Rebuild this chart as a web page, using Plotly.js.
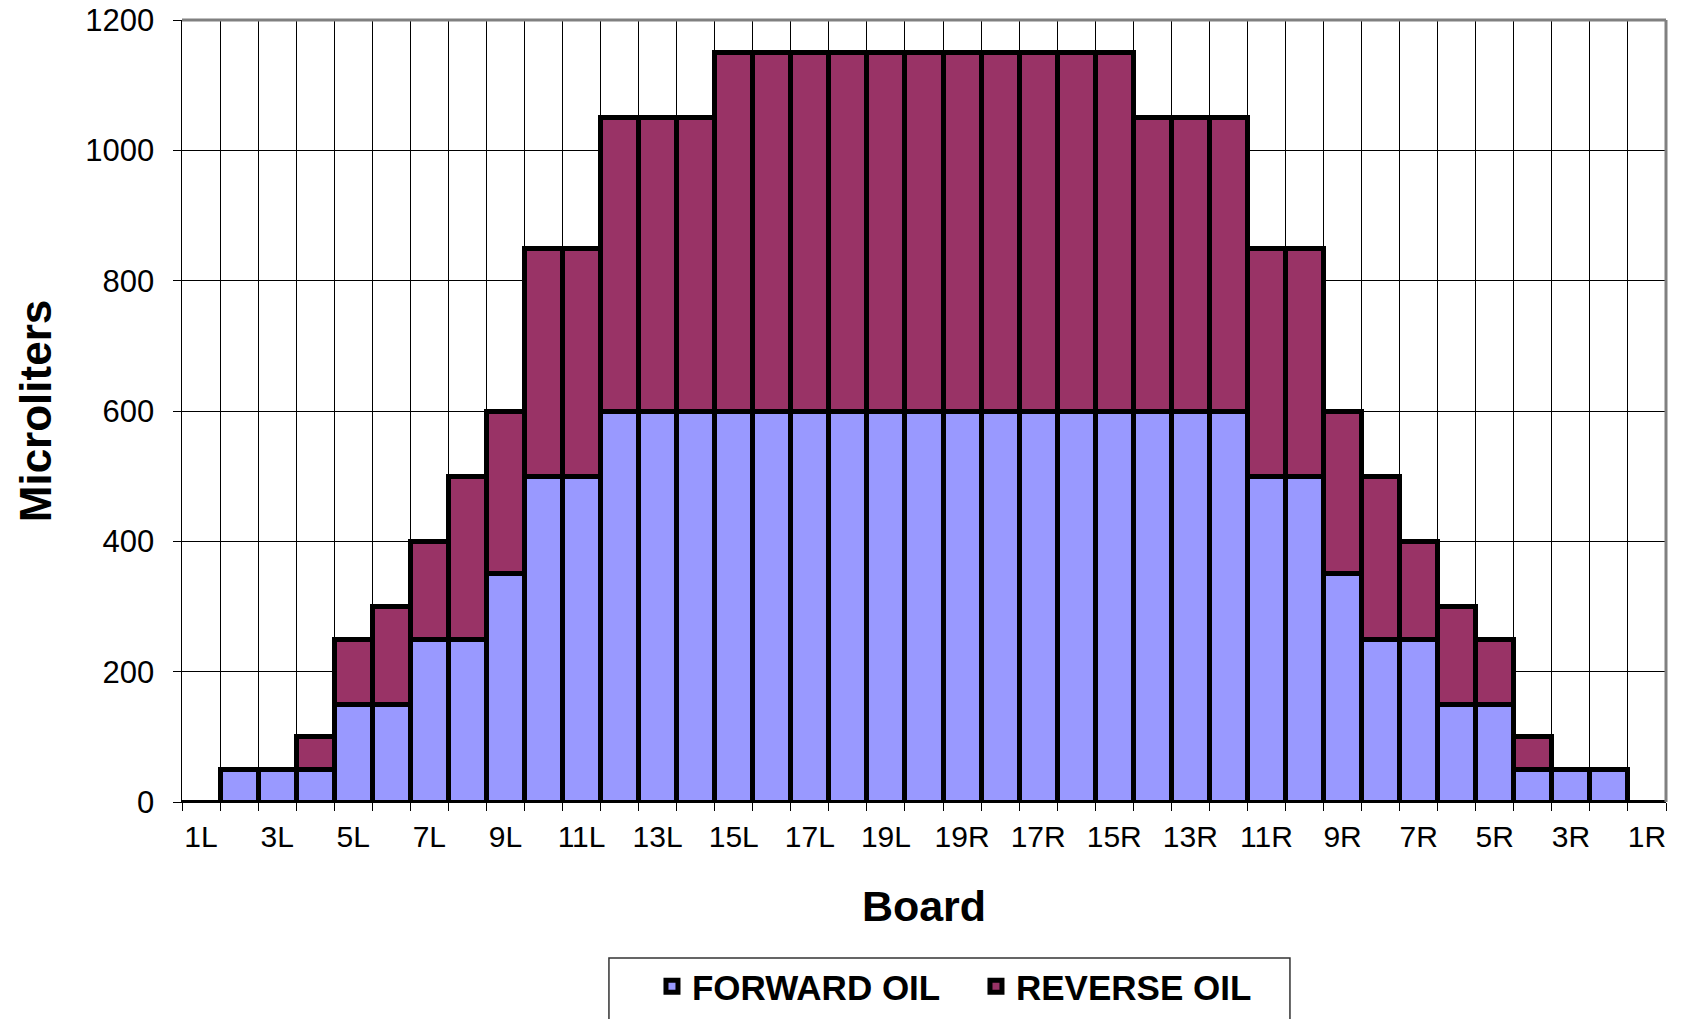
<!DOCTYPE html>
<html>
<head>
<meta charset="utf-8">
<script src="https://cdn.plot.ly/plotly-3.0.1.min.js"></script>
<style>
  html, body { margin: 0; padding: 0; background: #ffffff; }
  #chart { width: 1682px; height: 1019px; }
</style>
</head>
<body>
<div id="chart"></div>
<script>
// Board positions, left side 1L..19L, centre, right side 19R..1R
const categories = ["1L","2L","3L","4L","5L","6L","7L","8L","9L","10L","11L","12L","13L","14L","15L","16L","17L","18L","19L","20",
                    "19R","18R","17R","16R","15R","14R","13R","12R","11R","10R","9R","8R","7R","6R","5R","4R","3R","2R","1R"];
const tickLabels = ["1L","","3L","","5L","","7L","","9L","","11L","","13L","","15L","","17L","","19L","",
                    "19R","","17R","","15R","","13R","","11R","","9R","","7R","","5R","","3R","","1R"];
const forwardOil = [0,50,50,50,150,150,250,250,350,500,500,600,600,600,600,600,600,600,600,600,
                    600,600,600,600,600,600,600,600,500,500,350,250,250,150,150,50,50,50,0];
const reverseOil = [0,0,0,50,100,150,150,250,250,350,350,450,450,450,550,550,550,550,550,550,
                    550,550,550,550,550,450,450,450,350,350,250,250,150,150,100,50,0,0,0];
const yTicks = [0,200,400,600,800,1000,1200];

const FONT = "Liberation Sans, Arial, sans-serif";

const traces = [
  {
    type: "bar", name: "FORWARD OIL", x: categories, y: forwardOil,
    marker: { color: "#9999FF", line: { color: "#000000", width: 5 } }
  },
  {
    type: "bar", name: "REVERSE OIL", x: categories, y: reverseOil,
    marker: { color: "#993366", line: { color: "#000000", width: 5 } }
  }
];

const layout = {
  width: 1682, height: 1019,
  paper_bgcolor: "#ffffff", plot_bgcolor: "#ffffff",
  margin: { l: 182, r: 16, t: 20, b: 217, autoexpand: false },
  barmode: "stack", bargap: 0,
  font: { family: FONT, color: "#000000" },
  showlegend: true,
  legend: {
    orientation: "h", xref: "paper", x: 0.3167, xanchor: "left",
    yref: "container", y: 0.0608, yanchor: "top",
    font: { family: FONT, size: 35, color: "#000000", weight: "bold" },
    bgcolor: "rgba(0,0,0,0)", borderwidth: 0,
    entrywidth: 279, entrywidthmode: "pixels", traceorder: "normal"
  },
  xaxis: {
    type: "category", automargin: false,
    tickmode: "array", tickvals: categories, ticktext: tickLabels,
    tickson: "boundaries", tickangle: 0,
    ticks: "outside", ticklen: 8, tickcolor: "#000000", tickwidth: 1,
    tickfont: { family: FONT, size: 30, color: "#000000" },
    ticklabelstandoff: 8,
    showgrid: true, gridcolor: "#000000", gridwidth: 1,
    showline: true, linecolor: "#000000", linewidth: 1,
    zeroline: false, fixedrange: true,
    title: { text: "Board", font: { family: FONT, size: 43, color: "#000000", weight: "bold" }, standoff: 38 }
  },
  yaxis: {
    automargin: false,
    range: [0, 1200], tickmode: "array", tickvals: yTicks,
    ticks: "outside", ticklen: 8, tickcolor: "#000000", tickwidth: 1,
    tickfont: { family: FONT, size: 31, color: "#000000" },
    ticklabelstandoff: 12,
    showgrid: true, gridcolor: "#000000", gridwidth: 1,
    showline: true, linecolor: "#000000", linewidth: 1.5,
    zeroline: false, fixedrange: true,
    title: { text: "Microliters", font: { family: FONT, size: 44, color: "#000000", weight: "bold" }, standoff: 20 }
  },
  shapes: [
    { type: "line", xref: "paper", yref: "paper", x0: 0, x1: 1, y0: 1, y1: 1, line: { color: "#808080", width: 3 }, layer: "above" },
    { type: "line", xref: "paper", yref: "paper", x0: 1, x1: 1, y0: 0, y1: 1, line: { color: "#808080", width: 3 }, layer: "above" },
    { type: "rect", xref: "paper", yref: "paper", x0: 0.2877, x1: 0.7466, y0: -0.1995, y1: -0.2916, line: { color: "#333333", width: 1.5 }, layer: "above" }
  ]
};

Plotly.newPlot("chart", traces, layout, { displayModeBar: false, staticPlot: true });
</script>
</body>
</html>
